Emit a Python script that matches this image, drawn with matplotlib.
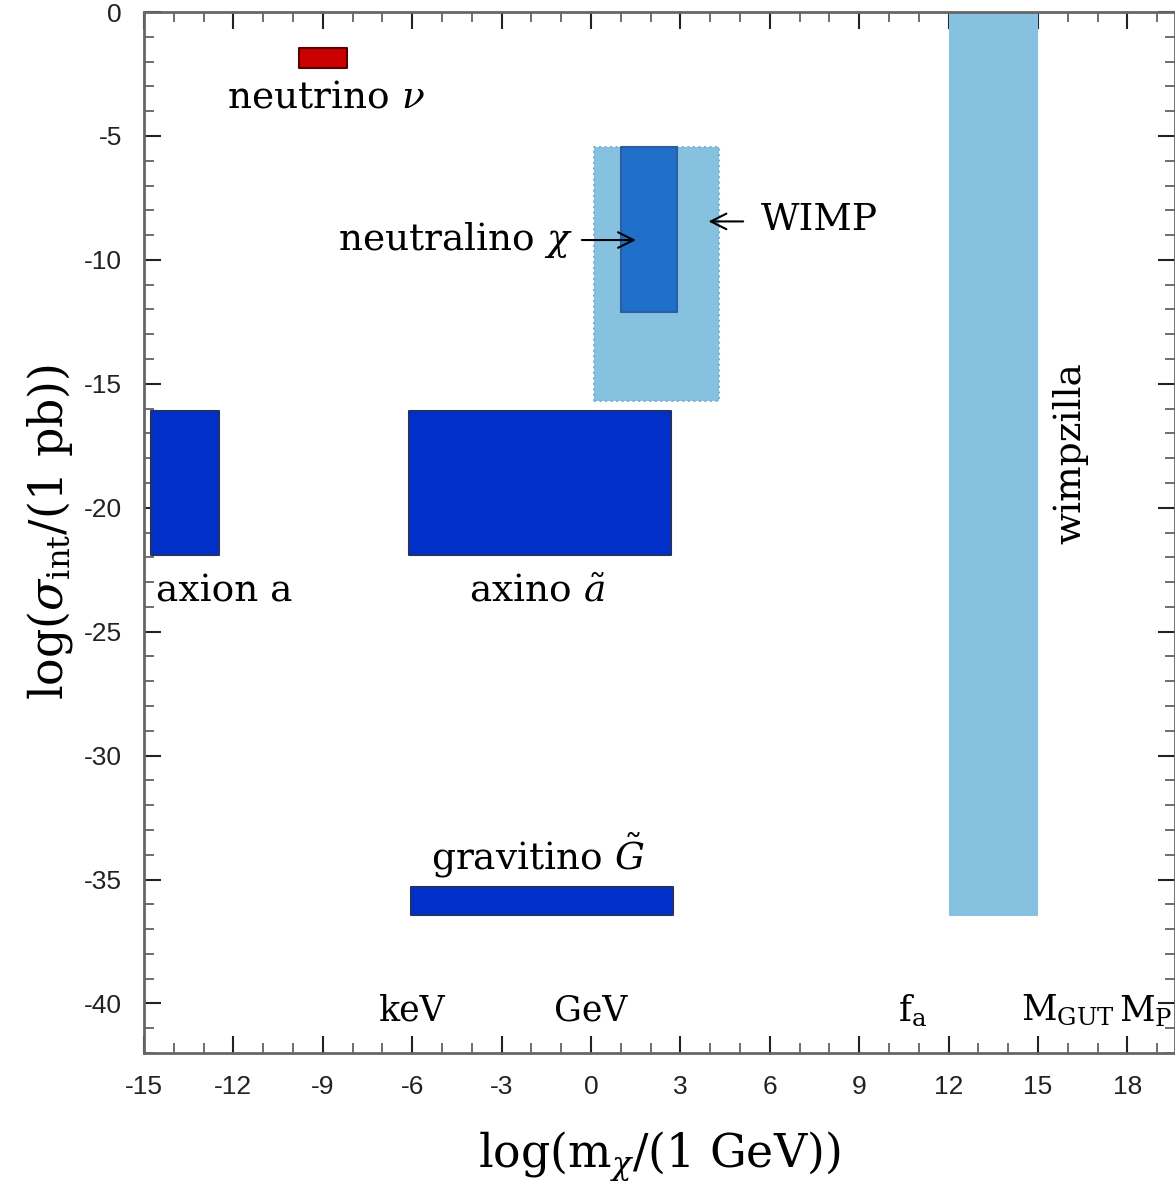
import matplotlib.pyplot as plt
from matplotlib.ticker import MultipleLocator

plt.rcParams['mathtext.fontset'] = 'dejavuserif'
plt.rcParams['axes.unicode_minus'] = False

###  DATA  ###
# candidate regions: log(m/GeV) range and log(sigma/pb) range
names = ['neutrino', 'WIMP', 'neutralino', 'axion', 'axino', 'gravitino', 'wimpzilla']
x_lo = [-9.8, 0.1, 1.0, -14.75, -6.1, -6.05, 12.05]
x_hi = [-8.2, 4.3, 2.9, -12.5, 2.7, 2.75, 14.95]
y_lo = [-2.25, -15.7, -12.1, -21.9, -21.9, -36.45, -36.45]
y_hi = [-1.45, -5.45, -5.45, -16.1, -16.1, -35.3, 0.0]

face = ['#cc0000', '#86c1df', '#1f6fcb', '#0030c8', '#0030c8', '#0030c8', '#86c1df']
edge = ['#550000', '#7fb0d0', '#2a5f9e', '#203070', '#203070', '#203070', '#86c1df']
style = ['-', ':', '-', '-', '-', '-', '-']

scale_names = ['keV', 'GeV', 'f$_{\\rm a}$', 'M$_{\\rm GUT}$', 'M$_{\\rm P}$']
scale_pos = [-6.0, 0.0, 10.8, 16.0, 18.6]

xticks = list(range(-15, 19, 3))
yticks = list(range(-40, 1, 5))

###  PLOT  ###
fig = plt.figure(figsize=(11.75, 11.86), dpi=100)
ax = fig.add_axes([144/1175, 1 - 1053/1186, 1 - 144/1175, (1053 - 12)/1186])

for i in range(len(names)):
    b = ax.bar(x_lo[i], y_hi[i] - y_lo[i], width=x_hi[i] - x_lo[i], bottom=y_lo[i],
               align='edge', color=face[i], edgecolor=edge[i], linewidth=1.5,
               linestyle=style[i], zorder=2 if names[i] != 'neutralino' else 3)
    for p in b:
        p.set_joinstyle('round')

ax.set_xlim(-15, -15 + 1031/29.8)
ax.set_ylim(-42, 0)

serif = 'DejaVu Serif'
fs = 27
ax.text(-8.9, -3.45, 'neutrino $\\nu$', family=serif, size=fs, ha='center', va='center')
ax.text(-0.6, -9.2, 'neutralino $\\chi$', family=serif, size=fs, ha='right', va='center')
ax.annotate('', xy=(1.6, -9.2), xytext=(-0.4, -9.2),
            arrowprops=dict(arrowstyle='->', lw=1.5, color='black', mutation_scale=28), zorder=4)
ax.annotate('', xy=(3.85, -8.45), xytext=(5.2, -8.45),
            arrowprops=dict(arrowstyle='->', lw=1.5, color='black', mutation_scale=28), zorder=4)
ax.text(5.7, -8.4, 'WIMP', family=serif, size=fs, ha='left', va='center')
ax.text(-14.6, -23.4, 'axion a', family=serif, size=fs, ha='left', va='center')
ax.text(-1.8, -23.4, 'axino $\\tilde{a}$', family=serif, size=fs, ha='center', va='center')
ax.text(-1.8, -34.0, 'gravitino $\\tilde{G}$', family=serif, size=fs, ha='center', va='center')
ax.text(16.1, -17.8, 'wimpzilla', family=serif, size=fs, ha='center', va='center', rotation=90)

for lab, xp in zip(scale_names, scale_pos):
    ax.text(xp, -40.3, lab, family=serif, size=25, ha='center', va='center')

ax.set_xlabel('log(m$_\\chi$/(1 GeV))', family=serif, size=33, labelpad=22)
ax.set_ylabel('log($\\sigma_{\\rm int}$/(1 pb))', family=serif, size=33, labelpad=6)

ax.set_xticks(xticks)
ax.set_yticks(yticks)
ax.xaxis.set_minor_locator(MultipleLocator(1))
ax.yaxis.set_minor_locator(MultipleLocator(1))
ax.tick_params(which='both', direction='in', top=True, right=True)
ax.tick_params(which='major', length=12, width=1.5, color='#222222', pad=16)
ax.tick_params(which='minor', length=7, width=1.2, color='#555555')
for lab in ax.get_xticklabels() + ax.get_yticklabels():
    lab.set_family(['Liberation Sans Narrow', 'Liberation Sans'])
    lab.set_fontsize(19)
    lab.set_color('#222222')
for s in ax.spines.values():
    s.set_color('#666666')
    s.set_linewidth(2)

fig.savefig('out.png', dpi=100)
